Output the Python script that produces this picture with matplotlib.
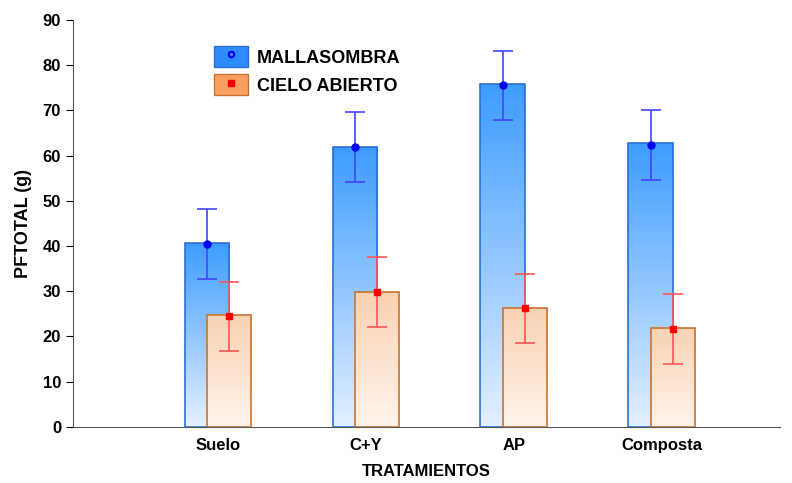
import numpy as np
import matplotlib.pyplot as plt
from matplotlib.colors import LinearSegmentedColormap
from matplotlib.patches import Rectangle
from matplotlib.lines import Line2D

plt.rcParams['font.family'] = ['Liberation Sans', 'DejaVu Sans']

tratamientos = ['Suelo', 'C+Y', 'AP', 'Composta']
malla_bar = [40.7, 61.8, 75.8, 62.8]
malla_media = [40.5, 61.9, 75.5, 62.4]
malla_err = [7.7, 7.7, 7.7, 7.7]
cielo_bar = [24.8, 29.8, 26.3, 21.8]
cielo_media = [24.5, 29.8, 26.2, 21.6]
cielo_err = [7.6, 7.7, 7.6, 7.7]

fig = plt.figure(figsize=(7.92, 4.83), dpi=100)
ax = fig.add_axes([0.092, 0.116, 0.893, 0.843])

x = np.arange(len(tratamientos))
w = 0.30
off = 0.075

cm_blue = LinearSegmentedColormap.from_list('b', ['#e4f0ff', '#3d9cff'])
cm_orng = LinearSegmentedColormap.from_list('o', ['#fff4ec', '#f9d2b3'])
grad = np.linspace(0, 1, 256).reshape(-1, 1)


def gbar(xc, h, cmap, edge, z):
    r = Rectangle((xc - w / 2, 0), w, h, facecolor='none', edgecolor=edge, lw=1.2, zorder=z + 0.5)
    ax.add_patch(r)
    im = ax.imshow(grad, cmap=cmap, extent=[xc - w / 2, xc + w / 2, 0, h],
                   origin='lower', aspect='auto', zorder=z)
    im.set_clip_path(r)


for i in range(len(x)):
    gbar(x[i] - off, malla_bar[i], cm_blue, '#2b6fd6', 2)
    gbar(x[i] + off, cielo_bar[i], cm_orng, '#c8742e', 3)

ax.errorbar(x - off, malla_media, yerr=malla_err, fmt='o', color='#0000ee', ecolor='#4444ff',
            ms=5, capsize=7, elinewidth=1.2, capthick=1.2, zorder=5)
ax.errorbar(x + off, cielo_media, yerr=cielo_err, fmt='s', color='#ff0000', ecolor='#ff5555',
            ms=5, capsize=7, elinewidth=1.2, capthick=1.2, zorder=5)

ax.set_xlim(-0.98, 3.8)
ax.set_ylim(0, 90)
ax.set_yticks(range(0, 91, 10))
ax.set_xticks(x)
ax.set_xticklabels(tratamientos, fontsize=12, fontweight='bold')
ax.tick_params(axis='y', labelsize=12, direction='out', length=5)
for t in ax.get_yticklabels():
    t.set_fontweight('bold')
ax.tick_params(axis='x', direction='in', length=4, pad=8)
ax.spines['top'].set_visible(False)
ax.spines['right'].set_visible(False)
ax.spines['left'].set_color('#555555')
ax.spines['bottom'].set_color('#555555')
ax.set_ylabel('PFTOTAL (g)', fontsize=13, fontweight='bold', labelpad=8)
ax.set_xlabel('TRATAMIENTOS', fontsize=12, fontweight='bold', labelpad=8)

h1 = (Rectangle((0, 0), 1, 1, facecolor='#2f8cff', edgecolor='#2b6fd6'),
      Line2D([], [], marker='o', color='#0000ee', ls='none', ms=4, mfc='none', mew=1.5))
h2 = (Rectangle((0, 0), 1, 1, facecolor='#f8a060', edgecolor='#c8742e'),
      Line2D([], [], marker='s', color='#ff0000', ls='none', ms=4))
ax.legend([h1, h2], ['MALLASOMBRA', 'CIELO ABIERTO'], loc='upper left',
          bbox_to_anchor=(0.176, 0.975), frameon=False, prop={'weight': 'bold', 'size': 13},
          handlelength=1.9, handleheight=1.4, labelspacing=0.4, handletextpad=0.5)

fig.savefig('out.png', dpi=100)
